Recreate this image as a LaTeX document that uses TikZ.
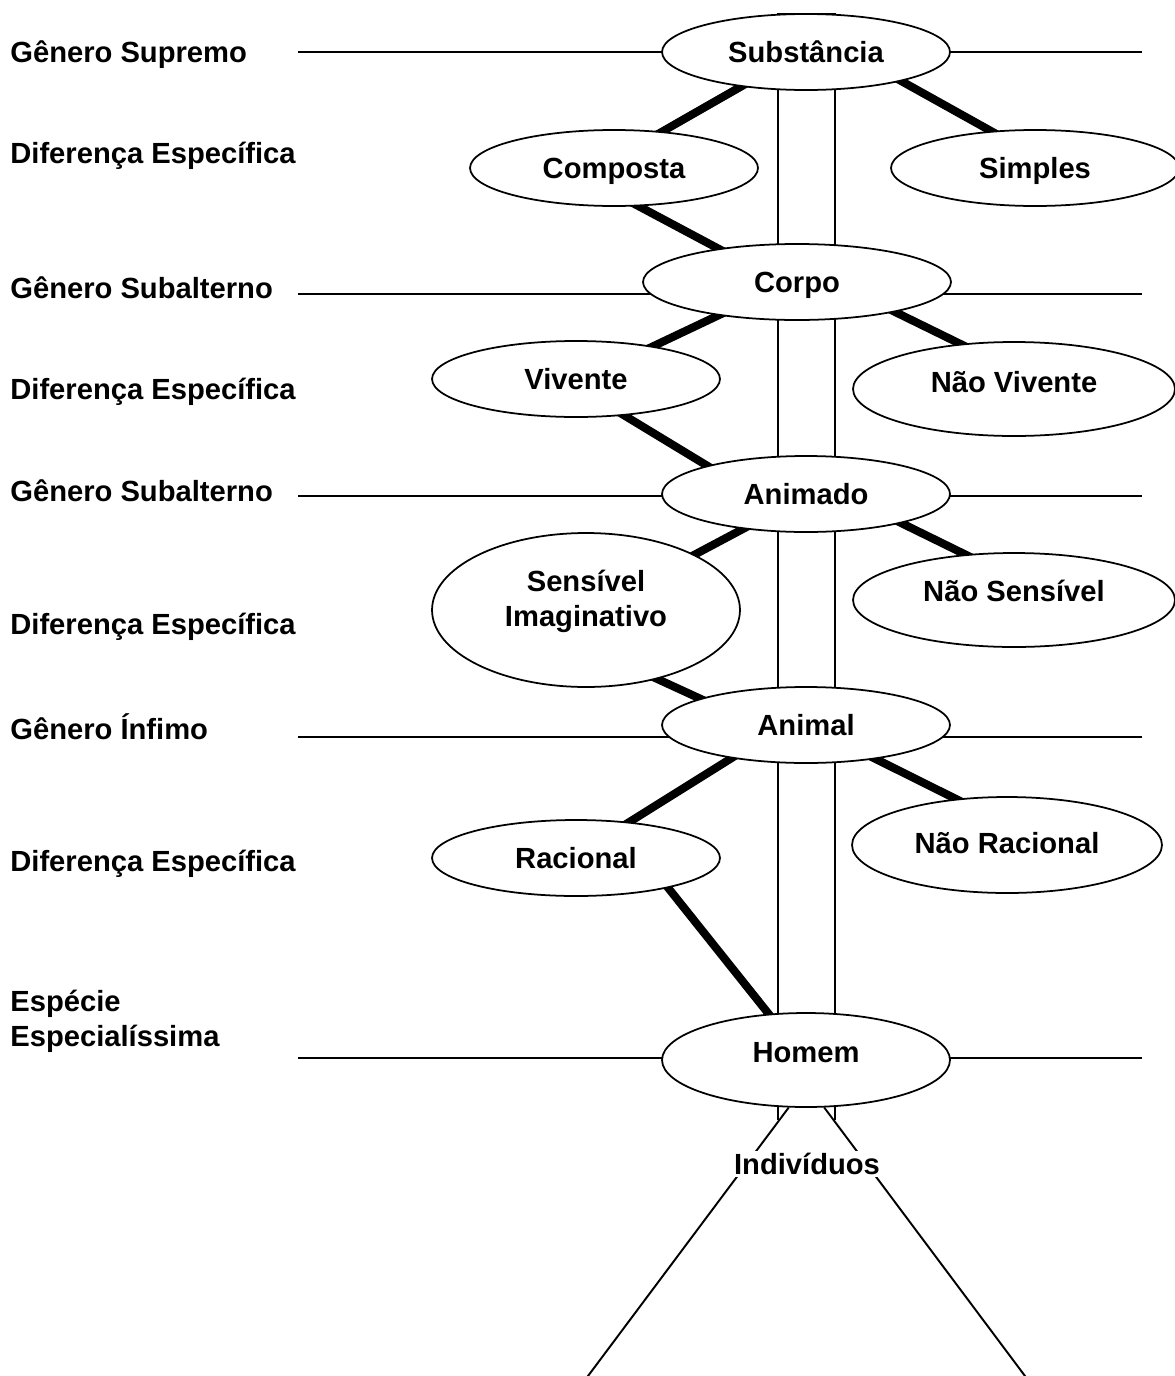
\documentclass[tikz,border=0pt]{standalone}
\usepackage{fontspec}
\setmainfont{Liberation Sans}
\usetikzlibrary{shapes.geometric,backgrounds}

\begin{document}
\begin{tikzpicture}[
    x=0.02cm, y=-0.02cm,
    every node/.style={font=\bfseries\fontsize{16.6}{19.9}\selectfont},
    term/.style={ellipse, draw, fill=white, line width=1pt, inner sep=0pt, align=center, text depth=0pt, minimum width=5.76cm, minimum height=1.52cm},
    rank/.style={anchor=west, align=left, inner sep=0pt, text depth=0pt},
    level/.style={line width=1.1pt},
    link/.style={line width=4.6pt, shorten <=-6pt, shorten >=-6pt}
]
\useasboundingbox (0,0) rectangle (1174,1376);

% Central column
\node[term] (sub) at (806,52) {Substância};
\node[term, minimum width=6.16cm] (cor) at (797,282) {Corpo};
\node[term] (anm) at (806,494) {Animado};
\node[term] (ani) at (806,725) {Animal};
\node[term, minimum height=1.88cm, text depth=0.32cm] (hom) at (806,1060) {Homem};

% Differences on the left
\node[term] (com) at (614,168) {Composta};
\node[term] (viv) at (576,379) {Vivente};
\node[term, minimum width=6.16cm, minimum height=3.08cm, text depth=0.48cm] (sen) at (586,610) {Sensível\\Imaginativo};
\node[term] (rac) at (576,858) {Racional};

% Differences on the right
\node[term] (sim) at (1035,168) {Simples};
\node[term, minimum width=6.44cm, minimum height=1.88cm, text depth=0.28cm] (nviv) at (1014,389) {Não Vivente};
\node[term, minimum width=6.44cm, minimum height=1.88cm, text depth=0.36cm] (nsen) at (1014,600) {Não Sensível};
\node[term, minimum width=6.2cm, minimum height=1.92cm, text depth=0.08cm] (nrac) at (1007,845) {Não Racional};

% Ranks
\node[rank] (r1) at (10,52) {Gênero Supremo};
\node[rank] (r2) at (10,153) {Diferença Específica};
\node[rank] (r3) at (10,288) {Gênero Subalterno};
\node[rank] (r4) at (10,389) {Diferença Específica};
\node[rank] (r5) at (10,491) {Gênero Subalterno};
\node[rank] (r6) at (10,624) {Diferença Específica};
\node[rank] (r7) at (10,727) {Gênero Ínfimo};
\node[rank] (r8) at (10,861) {Diferença Específica};
\node[rank] (r9) at (10,1018) {Espécie\\Especialíssima};

\node[fill=white, inner sep=1pt] (ind) at (807,1164) {Indivíduos};
\coordinate (indl) at (585,1380);
\coordinate (indr) at (1028,1380);

\begin{pgfonlayer}{background}
% Trunk and levels
\draw[level] (778,1120) |- (835,14) -- (835,1120);
\draw[level] (298,52) -- (1142,52);
\draw[level] (298,294) -- (1142,294);
\draw[level] (298,496) -- (1142,496);
\draw[level] (298,737) -- (1142,737);
\draw[level] (298,1058) -- (1142,1058);
\draw[level] (hom.-110) -- (indl);
\draw[level] (hom.-69) -- (indr);

% Divisions
\draw[link] (sub.208) -- (com.37);
\draw[link] (com.-57) -- (cor.157);
\draw[link] (sub.-17) -- (sim.140);
\draw[link] (cor.-157) -- (viv.23);
\draw[link] (viv.-37) -- (anm.164);
\draw[link] (cor.-17) -- (nviv.140);
\draw[link] (anm.209) -- (sen.27);
\draw[link] (sen.-44) -- (ani.166);
\draw[link] (anm.-17) -- (nsen.137);
\draw[link] (ani.204) -- (rac.34);
\draw[link] (ani.-26) -- (nrac.138);
\draw[link] (rac.-18) -- (hom.129);
\end{pgfonlayer}

\end{tikzpicture}
\end{document}
